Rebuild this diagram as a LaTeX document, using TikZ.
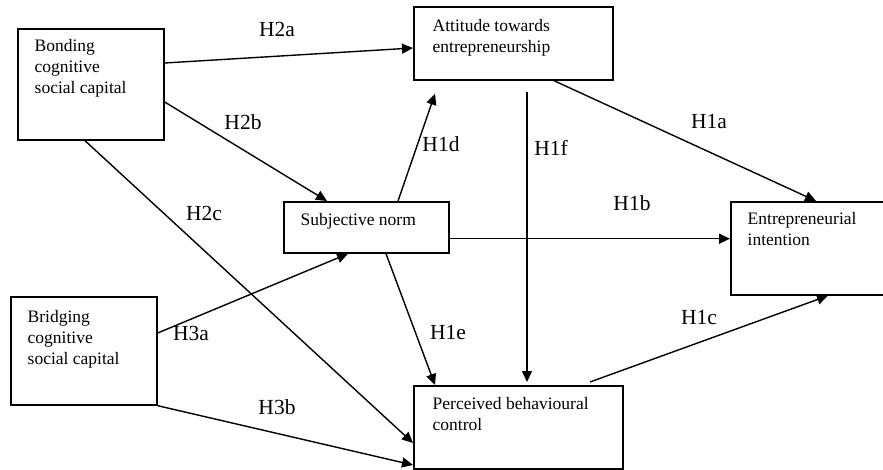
\documentclass[tikz,border=0pt]{standalone}
\usepackage{fontspec}
\setmainfont{Liberation Serif}
\usetikzlibrary{positioning, calc, arrows.meta}
\tikzset{%
  every construct/.style={
    draw,
    line width=1.7pt,
    anchor=north west,
    inner sep=0pt
  },
  construct text/.style={
    anchor=north west,
    inner sep=0pt,
    align=left,
    font=\fontsize{17.5}{21}\selectfont
  },
  hypothesis/.style={
    inner sep=0pt,
    font=\fontsize{21.5}{24}\selectfont
  },
}

\begin{document}
\begin{tikzpicture}[x=1pt, y=-1pt, >={Triangle[length=11pt, width=10pt]}, line width=1.4pt]
\useasboundingbox (0,0) rectangle (883,470);

% the six constructs
\node [every construct, minimum width=146pt, minimum height=111pt] (bonding) at (17,28) {};
\node [every construct, minimum width=146pt, minimum height=108pt] (bridging) at (10,296) {};
\node [every construct, minimum width=199pt, minimum height=73pt] (attitude) at (413,6) {};
\node [every construct, minimum width=165pt, minimum height=51pt] (norm) at (283,201) {};
\node [every construct, minimum width=209pt, minimum height=83pt] (control) at (413,385) {};
\node [every construct, minimum width=160pt, minimum height=93pt] (intention) at (730,201) {};

\node [construct text] (bonding-text) at ($(bonding.north west)+(17,11)$) {Bonding\\cognitive\\social capital};
\node [construct text] (bridging-text) at ($(bridging.north west)+(17,14)$) {Bridging\\cognitive\\social capital};
\node [construct text] (attitude-text) at ($(attitude.north west)+(19,13)$) {Attitude towards\\entrepreneurship};
\node [construct text] (norm-text) at ($(norm.north west)+(17,12)$) {Subjective norm};
\node [construct text] (control-text) at ($(control.north west)+(19,12)$) {Perceived behavioural\\control};
\node [construct text] (intention-text) at ($(intention.north west)+(17,11)$) {Entrepreneurial\\intention};

% paths
\draw [->] ($(bonding.north east)+(0,35)$) -- ($(attitude.north west)+(0,42)$);
\draw [->] ($(bonding.north east)+(0,74)$) -- ($(norm.north west)+(44,0)$);
\draw [->] ($(bonding.south west)+(68,0)$) -- ($(control.north west)+(0,58)$);
\draw [->] ($(bridging.north east)+(0,37)$) -- ($(norm.south west)+(65,0)$);
\draw [->] (bridging.south east) -- ($(control.north west)+(0,80)$);
\draw [->] ($(norm.north west)+(115,0)$) -- ($(attitude.south west)+(22,13)$);
\draw [->] ($(norm.south west)+(103,0)$) -- ($(control.north west)+(22,0)$);
\draw [->] ($(attitude.south west)+(114,11)$) -- ($(control.north west)+(114,-3)$);
\draw [->] ($(attitude.south west)+(141,0)$) -- ($(intention.north west)+(86,0)$);
\draw [->] ($(norm.south east)+(0,-15)$) coordinate (h1b-start) -- (h1b-start -| intention.west);
\draw [->] ($(control.north west)+(177,-3)$) -- ($(intention.south west)+(98,0)$);

% hypothesis labels
\foreach \h/\x/\y in {H2a/277/29, H2b/243/122, H2c/204/213, H3a/191/333, H3b/277/407,
                      H1a/709/122, H1b/632/203, H1c/699/318, H1d/441/144, H1e/448/333, H1f/551/148}
  \node [hypothesis] (label-\h) at (\x,\y) {\h};
\end{tikzpicture}
\end{document}
